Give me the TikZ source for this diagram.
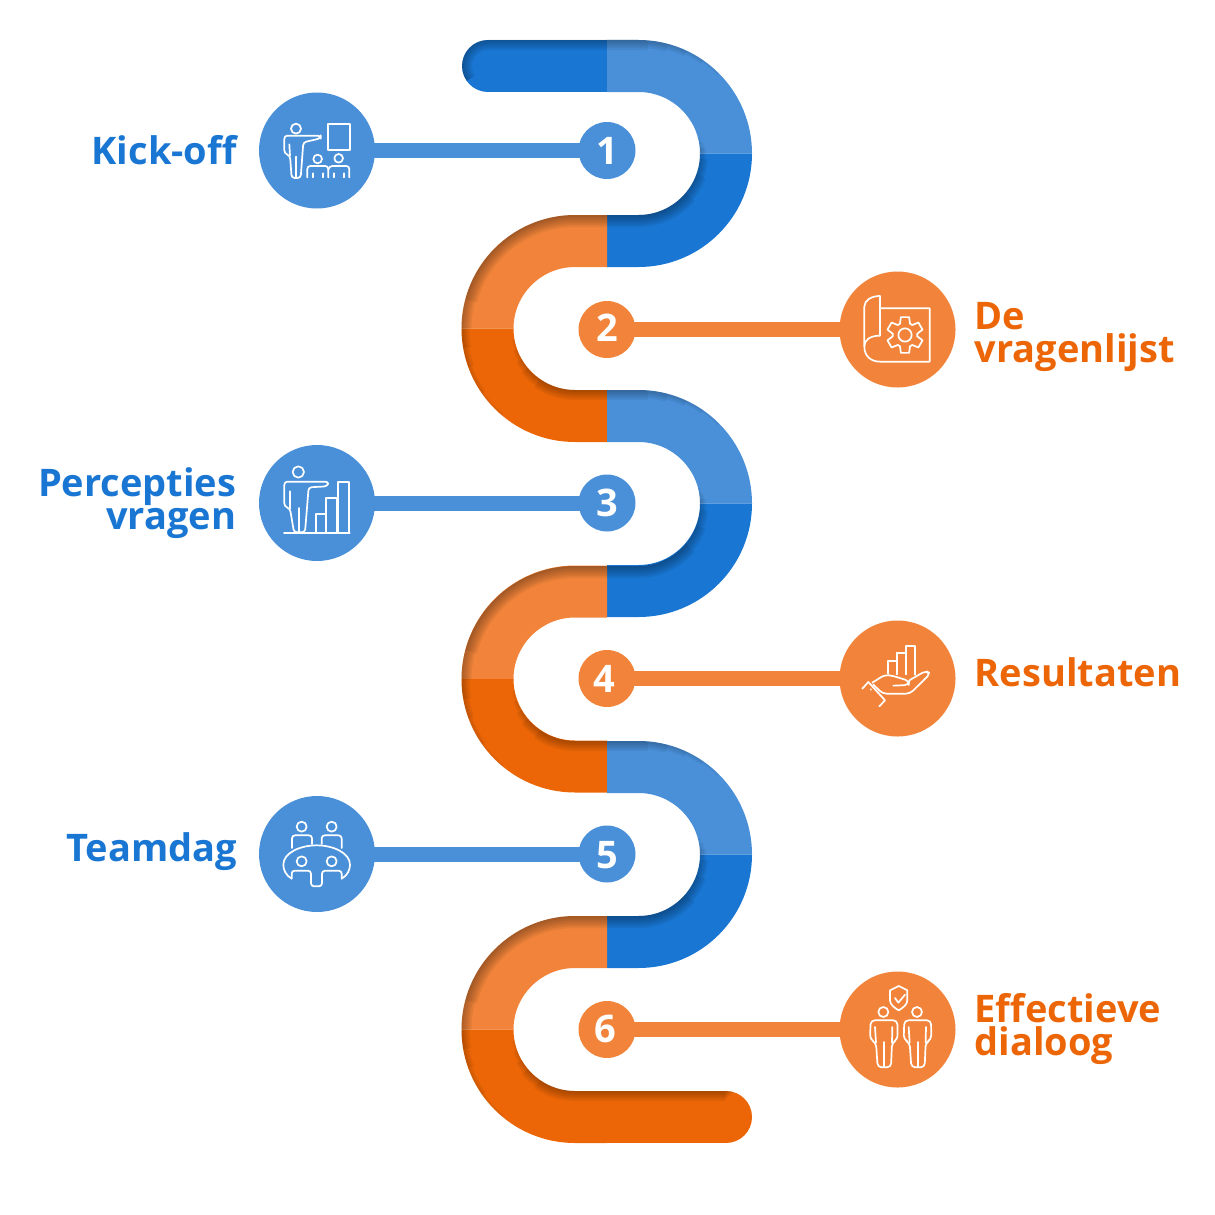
\documentclass[tikz,border=0pt]{standalone}
\usepackage{fontspec}
\setmainfont{Open Sans}
\definecolor{blueD}{HTML}{1976D2}
\definecolor{blueL}{HTML}{4A90D9}
\definecolor{orangeD}{HTML}{EC6607}
\definecolor{orangeL}{HTML}{F1843A}
\tikzset{
	band/.style = {line width = 52pt},
	shadeline/.style = {black, opacity = 0.06},
	icondot/.style = {circle, minimum size = 116pt, inner sep = 0pt, fill = #1},
	numdot/.style = {circle, minimum size = 57pt, inner sep = 0pt, fill = #1},
	numtext/.style = {white, inner sep = 0pt, font = \fontsize{38}{38}\bfseries\selectfont},
	link/.style = {line width = 15pt, shorten < = -1.5pt, shorten > = -1.5pt, #1},
	iconline/.style = {white, line width = 1.7pt, line join = round, line cap = round},
	lableft/.style = {anchor = east, align = right, inner sep = 0pt, text = blueD, font = \fontsize{38}{33}\bfseries\selectfont},
	labright/.style = {anchor = west, align = left, inner sep = 0pt, text = orangeD, font = \fontsize{38}{33}\bfseries\selectfont}
}
\newcommand{\bendright}[1]{
	\fill [blueL] (607,#1-113.5) -- (638.5,#1-113.5) arc [start angle = -90, end angle = 0, radius = 113.5] -- (700,#1) arc [start angle = 0, end angle = -90, radius = 61.5] -- (607,#1-61.5) -- cycle;
	\fill [blueD] (752,#1) arc [start angle = 0, end angle = 90, radius = 113.5] -- (607,#1+113.5) -- (607,#1+61.5) -- (638.5,#1+61.5) arc [start angle = 90, end angle = 0, radius = 61.5] -- cycle;
}
\newcommand{\bendleft}[1]{
	\fill [orangeL] (607,#1-113.5) -- (575,#1-113.5) arc [start angle = -90, end angle = -180, radius = 113.5] -- (513.5,#1) arc [start angle = -180, end angle = -90, radius = 61.5] -- (607,#1-61.5) -- cycle;
	\fill [orangeD] (461.5,#1) arc [start angle = 180, end angle = 90, radius = 113.5] -- (607,#1+113.5) -- (607,#1+61.5) -- (575,#1+61.5) arc [start angle = 90, end angle = 180, radius = 61.5] -- cycle;
}
\newcommand{\shadeleft}[1]{
	\foreach \w/\a/\b in {2/105/140, 4/100/125, 6/95/110, 8/85/100, 10/70/90, 12/50/75} {
		\draw [shadeline, line width = \w pt] ([shift = {({90-\a}:{61.5+\w/2})}] 638.5,#1-61.5) arc [start angle = 90-\a, end angle = 90, radius = 61.5+\w/2] -- (575,#1+\w/2) arc [start angle = -90, end angle = -90-\b, radius = 113.5-\w/2];
	}
}
\newcommand{\shaderight}[1]{
	\foreach \w/\a/\b in {2/80/45, 4/70/35, 6/60/25, 8/50/15, 10/35/5} {
		\draw [shadeline, line width = \w pt] ([shift = {({90+\a}:{61.5+\w/2})}] 575,#1-61.5) arc [start angle = 90+\a, end angle = 90, radius = 61.5+\w/2] -- (638.5,#1+\w/2) arc [start angle = -90, end angle = -90+\b, radius = 113.5-\w/2];
	}
}
\begin{document}
\begin{tikzpicture}[x = 1pt, y = -1pt]
	\useasboundingbox (0,0) rectangle (1215,1215);
	
	\draw [band, blueD, line cap = round] (488,66) -- (607,66);
	\draw [band, orangeD, line cap = round] (607,1117) -- (726,1117);
	
	\bendright{153.5}
	\bendleft{328.5}
	\bendright{503.5}
	\bendleft{679}
	\bendright{854.5}
	\bendleft{1029.5}
	
	\foreach \w/\b in {2/45, 4/35, 6/25, 8/15, 10/5} {
		\draw [shadeline, line width = \w pt] ([shift = {(-215:{26-\w/2})}] 488,66) arc [start angle = -215, end angle = -90, radius = 26-\w/2] -- (638.5,40+\w/2) arc [start angle = -90, end angle = -90+\b, radius = 113.5-\w/2];
	}
	\shadeleft{215}
	\shaderight{390}
	\shadeleft{566}
	\shaderight{741}
	\shadeleft{916}
	\foreach \w/\a in {2/80, 4/70, 6/60, 8/50, 10/35} {
		\draw [shadeline, line width = \w pt] ([shift = {({90+\a}:{61.5+\w/2})}] 575,1029.5) arc [start angle = 90+\a, end angle = 90, radius = 61.5+\w/2] -- (735-\w,1091+\w/2);
	}
	
	\node [icondot = blueL] (icon1) at (317,150.5) {};
	\node [icondot = orangeL] (icon2) at (897.5,329.5) {};
	\node [icondot = blueL] (icon3) at (317,503) {};
	\node [icondot = orangeL] (icon4) at (897.5,678.5) {};
	\node [icondot = blueL] (icon5) at (317,854) {};
	\node [icondot = orangeL] (icon6) at (897.5,1029.5) {};
	
	\node [numdot = blueL] (num1) at (607,150.5) {};
	\node [numdot = orangeL] (num2) at (607,329.5) {};
	\node [numdot = blueL] (num3) at (607,503) {};
	\node [numdot = orangeL] (num4) at (607,678.5) {};
	\node [numdot = blueL] (num5) at (607,854) {};
	\node [numdot = orangeL] (num6) at (607,1029.5) {};
	
	\draw [link = blueL] (icon1) -- (num1);
	\draw [link = orangeL] (num2) -- (icon2);
	\draw [link = blueL] (icon3) -- (num3);
	\draw [link = orangeL] (num4) -- (icon4);
	\draw [link = blueL] (icon5) -- (num5);
	\draw [link = orangeL] (num6) -- (icon6);
	
	\node [numtext] (digit1) at (607,150.5) {1};
	\node [numtext] (digit2) at (607.5,328) {2};
	\node [numtext] (digit3) at (607.5,503) {3};
	\node [numtext] (digit4) at (604,679) {4};
	\node [numtext] (digit5) at (607,855) {5};
	\node [numtext] (digit6) at (605.5,1029) {6};
	
	\node [lableft] (label1) at (237,150) {Kick-off};
	\node [labright] (label2) at (974.5,336.5) {De\\vragenlijst};
	\node [lableft] (label3) at (236.5,503) {Percepties\\vragen};
	\node [labright] (label4) at (974.5,672) {Resultaten};
	\node [lableft] (label5) at (237,852) {Teamdag};
	\node [labright] (label6) at (974.5,1029) {Effectieve\\dialoog};
	
	\begin{scope}[shift = {(250,85)}, x = 0.3333pt, y = -0.3333pt, iconline]
		\draw (138,131) circle (15);
		\draw (234,116) rectangle (299,195);
		\draw [rounded corners = 3pt] (212,152) -- (103,152) -- (103,205) -- (120,212) -- (125,279) -- (152,279) -- (160,172) -- (212,160) -- cycle;
		\draw (118,178) -- (120,212);
		\draw (139,215) -- (139,279);
		\draw (203,222) circle (13);
		\draw (266,220) circle (13);
		\draw [rounded corners = 3pt] (172,277) -- (172,243) -- (235,243) -- (235,277);
		\draw [rounded corners = 3pt] (235,255) -- (238,243) -- (298,243) -- (298,277);
		\draw (190,265) -- (190,277);
		\draw (218,265) -- (218,277);
		\draw (252,265) -- (252,277);
		\draw (282,265) -- (282,277);
	\end{scope}
	
	\begin{scope}[shift = {(830,265)}, x = 0.3333pt, y = -0.3333pt, iconline]
		\draw (150,130) -- (299,130) -- (299,290) -- (150,290) .. controls (125,290) and (103,275) .. (103,245) .. controls (103,225) and (120,212) .. (150,212) -- (150,93) .. controls (125,93) and (103,105) .. (103,125) -- (103,245);
		\draw (225,210) circle (20);
		\begin{scope}[shift = {(225,210)}]
			\foreach \t in {30,90,...,330} {
				\draw (\t-24:37) -- (\t-13:55) -- (\t+13:55) -- (\t+24:37) -- (\t+36:37);
			}
		\end{scope}
	\end{scope}
	
	\begin{scope}[shift = {(250,438)}, x = 0.3333pt, y = -0.3333pt, iconline]
		\draw (145,102) circle (17);
		\draw [rounded corners = 3pt] (236,131) -- (103,131) -- (103,205) -- (120,212) -- (132,283) -- (165,283) -- (176,148) -- (232,145) -- cycle;
		\draw (120,160) -- (120,212);
		\draw (148,210) -- (148,283);
		\draw (102,284) -- (299,284);
		\draw (197,284) -- (197,227) -- (229,227) -- (229,284);
		\draw (229,227) -- (229,181) -- (262,181) -- (262,284);
		\draw (265,284) -- (265,131) -- (298,131) -- (298,284);
	\end{scope}
	
	\begin{scope}[shift = {(830,612)}, x = 0.3333pt, y = -0.3333pt, iconline]
		\draw (175,185) -- (175,146) -- (200,146) -- (200,187);
		\draw (200,124) -- (227,124) -- (227,187);
		\draw (200,146) -- (200,124);
		\draw (227,124) -- (227,101) -- (255,101) -- (255,188);
		\draw [rounded corners = 4pt] (127,212) -- (165,188) -- (190,192) -- (238,207) -- (236,219) -- (190,221);
		\draw [rounded corners = 4pt] (238,205) -- (288,176) -- (301,185) -- (240,245) -- (158,245) -- (130,218);
		\draw (97,230) -- (115,210) -- (165,265) -- (148,283);
		\draw (122,232) -- (123,233);
	\end{scope}
	
	\begin{scope}[shift = {(250,788)}, x = 0.3333pt, y = -0.3333pt, iconline]
		\draw (155,116) circle (15);
		\draw (245,116) circle (15);
		\draw (155,220) circle (15);
		\draw (245,220) circle (15);
		\draw [rounded corners = 3pt] (126,180) -- (126,142) -- (186,142) -- (186,168);
		\draw [rounded corners = 3pt] (215,168) -- (215,142) -- (275,142) -- (275,180);
		\draw (125,272) .. controls (107,262) and (100,245) .. (100,230) .. controls (100,195) and (150,172) .. (200,172) .. controls (250,172) and (300,195) .. (300,230) .. controls (300,245) and (293,262) .. (275,272);
		\draw [rounded corners = 3pt] (125,272) -- (125,248) -- (183,248) -- (183,295) -- (216,295) -- (216,248) -- (275,248) -- (275,272);
	\end{scope}
	
	\begin{scope}[shift = {(830,962)}, x = 0.3333pt, y = -0.3333pt, iconline]
		\draw (180,85) -- (206,72) -- (232,85) -- (232,115) .. controls (232,128) and (218,138) .. (206,145) .. controls (194,138) and (180,128) .. (180,115) -- cycle;
		\draw (195,108) -- (205,122) -- (225,98);
		\foreach \d in {0,101} {
			\draw (160+\d,150) circle (15);
			\draw [rounded corners = 4pt] (122+\d,175) -- (202+\d,175) -- (203+\d,232) -- (186+\d,242) -- (183+\d,316) -- (143+\d,316) -- (138+\d,242) -- (120+\d,232) -- cycle;
			\draw (135+\d,195) -- (138+\d,242);
			\draw (187+\d,195) -- (186+\d,242);
			\draw (162+\d,240) -- (162+\d,316);
		}
	\end{scope}
	
\end{tikzpicture}
\end{document}
